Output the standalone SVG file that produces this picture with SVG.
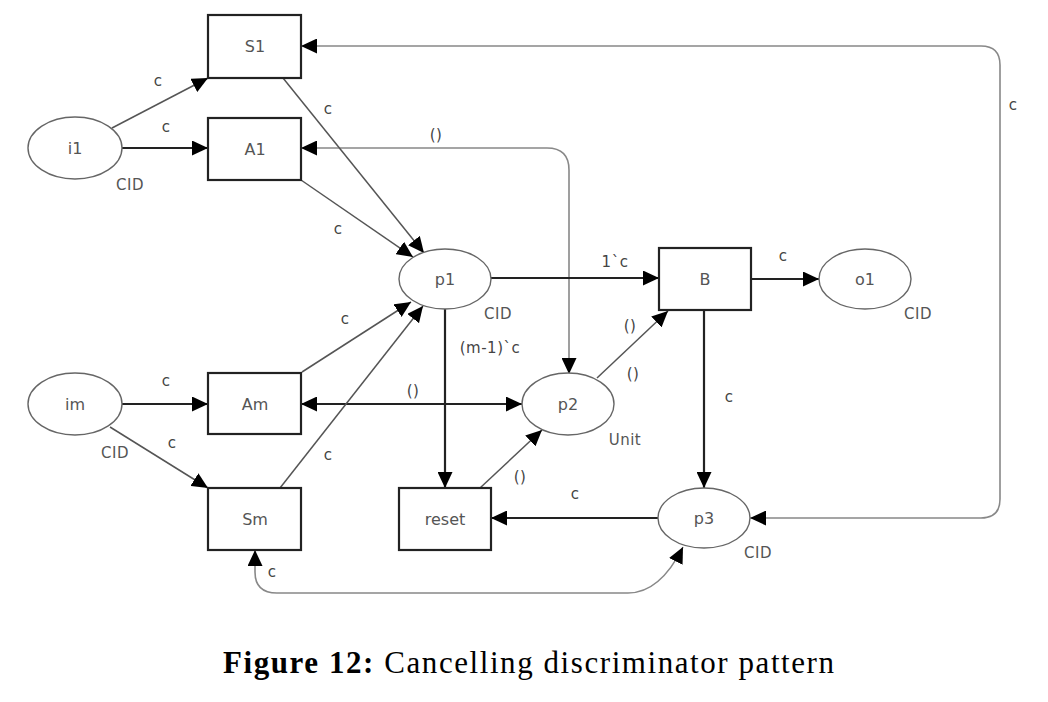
<svg xmlns="http://www.w3.org/2000/svg" width="1048" height="702" viewBox="0 0 1048 702">
<defs>
<marker id="ah" markerUnits="userSpaceOnUse" markerWidth="16" markerHeight="15" refX="16" refY="7.5" orient="auto-start-reverse" viewBox="0 0 16 15"><path d="M0,0 L16,7.5 L0,15 z" fill="#000"/></marker>
</defs>
<style>
.place{fill:#fff;stroke:#666;stroke-width:1.4}
.trans{fill:#fff;stroke:#222;stroke-width:2.2}
.name{font-family:"DejaVu Sans",sans-serif;font-size:16px;fill:#555;text-anchor:middle}
.lbl{font-family:"DejaVu Sans",sans-serif;font-size:15px;fill:#444;text-anchor:middle;letter-spacing:0.5px}
.type{font-family:"DejaVu Sans",sans-serif;font-size:15px;fill:#555;text-anchor:middle;letter-spacing:0.5px}
.thick{fill:none;stroke:#222;stroke-width:2.2}
.thin{fill:none;stroke:#555;stroke-width:1.5}
.light{fill:none;stroke:#888;stroke-width:1.6}
.cap{font-family:"Liberation Serif",serif;font-size:31px;fill:#000}
</style>
<rect width="1048" height="702" fill="#fff"/>
<g id="connectors">
<line class="thin" x1="112" y1="128" x2="208" y2="78" marker-end="url(#ah)"/>
<line class="thick" x1="122" y1="148" x2="208" y2="148" marker-end="url(#ah)"/>
<path class="light" d="M301,148 H547 Q569,148 569,170 V374" marker-start="url(#ah)" marker-end="url(#ah)"/>
<line class="thin" x1="283" y1="78" x2="424" y2="253" marker-end="url(#ah)"/>
<line class="thin" x1="301" y1="180" x2="413" y2="257" marker-end="url(#ah)"/>
<path class="light" d="M301,46 H981 Q1000,46 1000,65 V499 Q1000,518 981,518 H750" marker-start="url(#ah)" marker-end="url(#ah)"/>
<line class="thick" x1="491" y1="278" x2="659" y2="278" marker-end="url(#ah)"/>
<line class="thick" x1="751" y1="279" x2="819" y2="279" marker-end="url(#ah)"/>
<line class="thick" x1="704" y1="310" x2="704" y2="488" marker-end="url(#ah)"/>
<line class="thick" x1="445" y1="309" x2="445" y2="488" marker-end="url(#ah)"/>
<line class="thin" x1="597" y1="378" x2="668" y2="311" marker-end="url(#ah)"/>
<line class="thick" x1="301" y1="404" x2="522" y2="404" marker-start="url(#ah)" marker-end="url(#ah)"/>
<line class="thick" x1="122" y1="404" x2="208" y2="404" marker-end="url(#ah)"/>
<line class="thin" x1="110" y1="427" x2="208" y2="488" marker-end="url(#ah)"/>
<line class="thin" x1="302" y1="372" x2="411" y2="302" marker-end="url(#ah)"/>
<line class="thin" x1="280" y1="488" x2="423" y2="306" marker-end="url(#ah)"/>
<line class="thin" x1="480" y1="488" x2="542" y2="430" marker-end="url(#ah)"/>
<line class="thick" x1="658" y1="518" x2="491" y2="518" marker-end="url(#ah)"/>
<path class="light" d="M255,550 V572 Q255,593 277,593 H628 Q660,593 683,547" marker-start="url(#ah)" marker-end="url(#ah)"/>
<text class="lbl" x="158" y="86">c</text>
<text class="lbl" x="166" y="132">c</text>
<text class="lbl" x="328" y="114">c</text>
<text class="lbl" x="338" y="234">c</text>
<text class="lbl" x="436" y="140">()</text>
<text class="lbl" x="1013" y="110">c</text>
<text class="lbl" x="615" y="267">1`c</text>
<text class="lbl" x="783" y="261">c</text>
<text class="lbl" x="729" y="402">c</text>
<text class="lbl" x="490" y="353">(m-1)`c</text>
<text class="lbl" x="630" y="331">()</text>
<text class="lbl" x="633" y="379">()</text>
<text class="lbl" x="413" y="396">()</text>
<text class="lbl" x="345" y="324">c</text>
<text class="lbl" x="166" y="386">c</text>
<text class="lbl" x="172" y="448">c</text>
<text class="lbl" x="328" y="460">c</text>
<text class="lbl" x="520" y="482">()</text>
<text class="lbl" x="575" y="499">c</text>
<text class="lbl" x="272" y="577">c</text>
</g>
<g id="i1"><ellipse class="place" cx="75" cy="148" rx="47" ry="31"/><text class="name" x="75" y="154">i1</text><text class="type" x="130" y="190">CID</text></g>
<g id="im"><ellipse class="place" cx="75" cy="404" rx="47" ry="31"/><text class="name" x="75" y="410">im</text><text class="type" x="115" y="458">CID</text></g>
<g id="p1"><ellipse class="place" cx="445" cy="279" rx="46" ry="30"/><text class="name" x="445" y="285">p1</text><text class="type" x="498" y="319">CID</text></g>
<g id="p2"><ellipse class="place" cx="568" cy="404" rx="46" ry="31"/><text class="name" x="568" y="410">p2</text><text class="type" x="625" y="445">Unit</text></g>
<g id="p3"><ellipse class="place" cx="704" cy="518" rx="46" ry="30"/><text class="name" x="704" y="524">p3</text><text class="type" x="758" y="558">CID</text></g>
<g id="o1"><ellipse class="place" cx="865" cy="279" rx="46" ry="30"/><text class="name" x="865" y="285">o1</text><text class="type" x="918" y="319">CID</text></g>
<g id="S1"><rect class="trans" x="208" y="15" width="93" height="63"/><text class="name" x="255" y="52">S1</text></g>
<g id="A1"><rect class="trans" x="208" y="118" width="93" height="62"/><text class="name" x="255" y="155">A1</text></g>
<g id="Am"><rect class="trans" x="208" y="373" width="93" height="61"/><text class="name" x="255" y="410">Am</text></g>
<g id="Sm"><rect class="trans" x="208" y="488" width="93" height="62"/><text class="name" x="255" y="525">Sm</text></g>
<g id="reset"><rect class="trans" x="399" y="488" width="92" height="62"/><text class="name" x="445" y="525">reset</text></g>
<g id="B"><rect class="trans" x="659" y="248" width="92" height="62"/><text class="name" x="705" y="285">B</text></g>
<text class="cap" x="223" y="673" textLength="611" lengthAdjust="spacing"><tspan font-weight="bold">Figure 12:</tspan> Cancelling discriminator pattern</text>
</svg>
